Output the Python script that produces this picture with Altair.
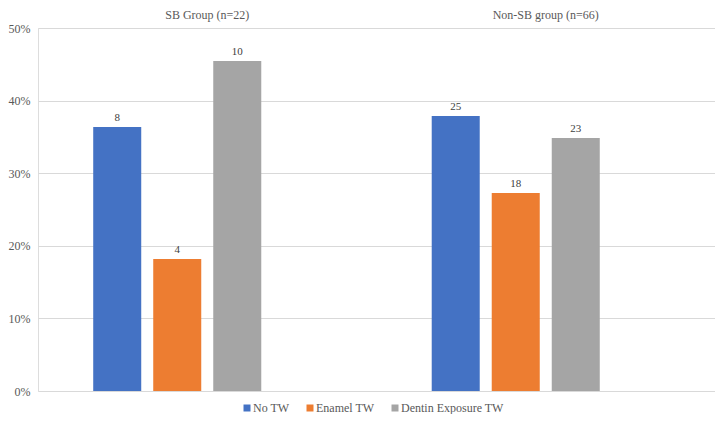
import altair as alt
import pandas as pd

groups = ["SB Group (n=22)", "Non-SB group (n=66)"]
group_n = [22, 66]
series = ["No TW", "Enamel TW", "Dentin Exposure TW"]
counts = {
    "SB Group (n=22)": [8, 4, 10],
    "Non-SB group (n=66)": [25, 18, 23],
}
colors = ["#4472C4", "#ED7D31", "#A5A5A5"]

rows = []
for g, n in zip(groups, group_n):
    for s, c in zip(series, counts[g]):
        rows.append({"group": g, "series": s, "count": c, "pct": c / n})
df = pd.DataFrame(rows)

font = "Liberation Serif"

x = alt.X("group:N", sort=groups, title=None,
          scale=alt.Scale(paddingInner=0, paddingOuter=0),
          axis=alt.Axis(orient="top", domain=False, ticks=False, labelPadding=7,
                        labelFont=font, labelFontSize=12, labelColor="#595959", labelAngle=0))
xo = alt.XOffset("series:N", scale=alt.Scale(domain=series + ["_"], paddingInner=0.2, paddingOuter=0.92))
y = alt.Y("pct:Q", title=None,
          scale=alt.Scale(domain=[0, 0.5]),
          axis=alt.Axis(format=".0%", values=[0, 0.1, 0.2, 0.3, 0.4, 0.5], domain=False, ticks=False,
                        labelPadding=8, labelFont=font, labelFontSize=12, labelColor="#595959",
                        gridColor="#d9d9d9", gridWidth=1))

bars = alt.Chart(df).mark_bar().encode(
    x=x, xOffset=xo, y=y,
    color=alt.Color("series:N", sort=series,
                    scale=alt.Scale(domain=series, range=colors),
                    legend=alt.Legend(orient="none", direction="horizontal", title=None,
                                      legendX=203, legendY=374,
                                      symbolType="square", symbolSize=49, symbolStrokeWidth=0,
                                      labelOffset=0,
                                      labelFont=font, labelFontSize=12, labelColor="#595959",
                                      columnPadding=14, padding=0)),
)

labels = alt.Chart(df).mark_text(dy=-4, baseline="bottom", font=font, fontSize=11, color="#404040").encode(
    x=alt.X("group:N", sort=groups), xOffset=xo, y="pct:Q", text="count:Q"
)

chart = (bars + labels).properties(width=677, height=363).configure_view(stroke=None).configure(
    padding={"left": 0, "top": 0, "right": 0, "bottom": 0}, font=font
).configure_legend(labelFont=font).configure_axis(labelFont=font)

chart.save("out.html", embed_options={"renderer": "svg", "actions": False})
